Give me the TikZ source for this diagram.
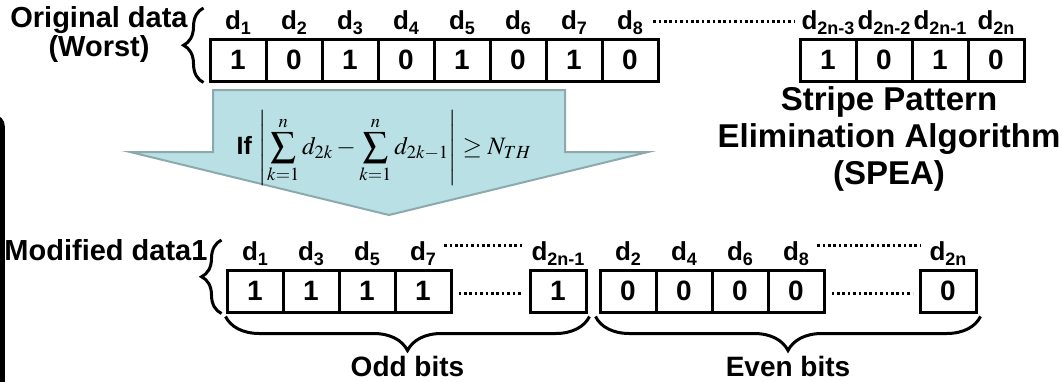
\documentclass[tikz,border=0pt]{standalone}
\usepackage{mathptmx}
\usepackage[no-math]{fontspec}
\setmainfont{Liberation Sans}
\usetikzlibrary{positioning,decorations.pathreplacing}
\definecolor{arrowfill}{RGB}{185,224,229}
\definecolor{arrowline}{RGB}{140,170,174}
\newcommand{\dsub}[1]{d\raisebox{-5pt}{\fontsize{18}{18}\selectfont #1}}

\begin{document}
\begin{tikzpicture}[x=1pt,y=-1pt,
  bitbox/.style={draw,line width=3pt,minimum width=56pt,minimum height=42pt,
    inner sep=0pt,font=\fontsize{28}{28}\selectfont\bfseries},
  dlab/.style={inner sep=0pt,font=\fontsize{26}{26}\selectfont\bfseries},
  dots/.style={line width=3pt,dash pattern=on 2.6pt off 2.8pt},
  curly/.style={decorate,decoration={brace,amplitude=#1},line width=3pt},
  heading/.style={align=center,font=\fontsize{29}{29}\selectfont\bfseries}]
  \useasboundingbox (0,0) rectangle (1062,381);
  % frame edge on the left
  \draw[line width=4.5pt,rounded corners=9pt] (-20,117) -- (2.5,117) -- (2.5,400);
  % original data
  \node[heading] (orig) at (99,34) {Original data\\(Worst)};
  \foreach \i/\b in {1/1,2/0,3/1,4/0,5/1,6/0,7/1,8/0}{
    \node[bitbox] (t\i) at ({238+56*(\i-1)},60) {\b};
    \node[dlab,above=3pt of t\i] (lt\i) {\dsub{\i}};
  }
  \foreach \i/\b/\s in {1/1/2n-3,2/0/2n-2,3/1/2n-1,4/0/2n}{
    \node[bitbox] (r\i) at ({828+56*(\i-1)},60) {\b};
    \node[dlab,above=3pt of r\i] (lr\i) {\dsub{\s}};
  }
  \draw[dots,shorten <=10pt,shorten >=6pt] (lt8.east |- 0,21) -- (lr1.west |- 0,21);
  \draw[curly=20pt] ([xshift=-5pt]t1.south west) -- ([xshift=-5pt]t1.west |- 0,8);
  % condition arrow
  \filldraw[fill=arrowfill,draw=arrowline,line width=2pt]
    (213,90) -- (565,90) -- (565,152) -- (648,152) -- (389,215)
    -- (130,152) -- (213,152) -- cycle;
  \node[font=\fontsize{25}{28}\selectfont] (cond) at (384,148)
    {\textbf{If} $\displaystyle\left|\sum_{k=1}^{n}d_{2k}-\sum_{k=1}^{n}d_{2k-1}\right|\geq N_{TH}$};
  \node[align=center,font=\fontsize{33}{37}\selectfont\bfseries] (spea) at (889,139)
    {Stripe Pattern\\Elimination Algorithm\\(SPEA)};
  % modified data
  \node[heading] (mod) at (106,250) {Modified data1};
  \foreach \i/\s in {1/1,2/3,3/5,4/7}{
    \node[bitbox] (b\i) at ({255+56*(\i-1)},291) {1};
    \node[dlab,above=3pt of b\i] (lb\i) {\dsub{\s}};
  }
  \node[bitbox] (bs) at (558,291) {1};
  \node[dlab,above=3pt of bs] (lbs) {\dsub{2n-1}};
  \foreach \i/\s in {1/2,2/4,3/6,4/8}{
    \node[bitbox] (e\i) at ({628+56*(\i-1)},291) {0};
    \node[dlab,above=3pt of e\i] (le\i) {\dsub{\s}};
  }
  \node[bitbox] (el) at (948,291) {0};
  \node[dlab,above=3pt of el] (lel) {\dsub{2n}};
  \draw[dots,shorten <=8pt,shorten >=8pt] (lb4.east |- 0,245) -- (lbs.west |- 0,245);
  \draw[dots,shorten <=8pt,shorten >=8pt] (le4.east |- 0,245) -- (lel.west |- 0,245);
  \draw[dots,shorten <=6pt,shorten >=6pt] (b4.east |- 0,293) -- (bs.west |- 0,293);
  \draw[dots,shorten <=6pt,shorten >=6pt] (e4.east |- 0,293) -- (el.west |- 0,293);
  \draw[curly=20pt] ([xshift=-4pt]b1.south west) -- ([xshift=-4pt]b1.west |- 0,240);
  \draw[curly=34pt] ([xshift=2pt,yshift=-3pt]bs.south east) -- ([yshift=-3pt]b1.south west)
    node[midway,below=38pt,font=\fontsize{28}{28}\selectfont\bfseries,inner sep=0pt] (odd) {Odd bits};
  \draw[curly=34pt] ([xshift=3pt,yshift=-3pt]el.south east) -- ([xshift=-3pt,yshift=-3pt]e1.south west)
    node[midway,below=38pt,font=\fontsize{28}{28}\selectfont\bfseries,inner sep=0pt] (even) {Even bits};
\end{tikzpicture}
\end{document}
